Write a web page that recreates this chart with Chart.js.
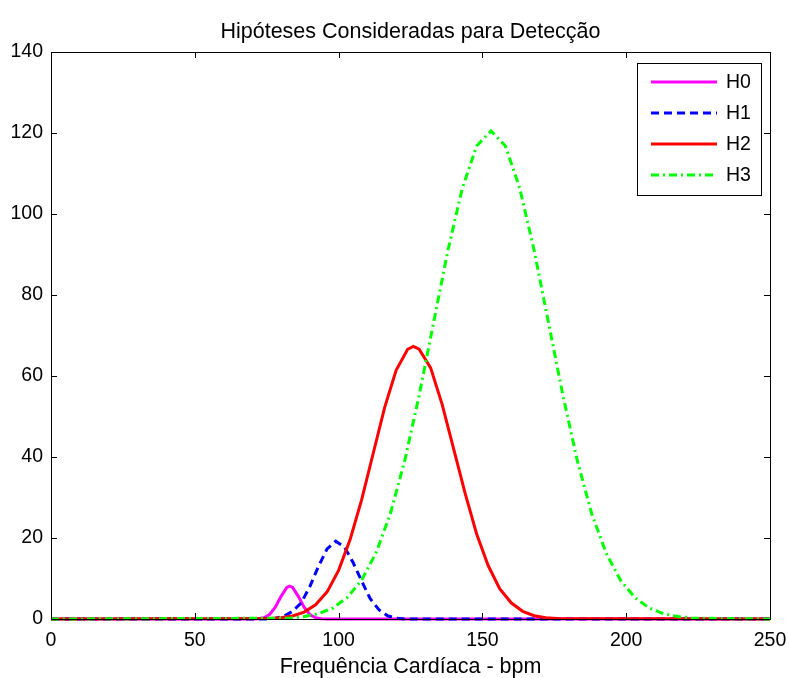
<!DOCTYPE html>
<html>
<head>
<meta charset="utf-8">
<script src="https://cdn.jsdelivr.net/npm/chart.js@4"></script>
<style>
  html, body { margin: 0; padding: 0; background: #fff; }
  #wrap { width: 789px; height: 678px; }
</style>
</head>
<body>
<div id="wrap"><canvas id="graph" width="789" height="678"></canvas></div>
<script>
// values (bpm vs. count)
const titleText = 'Hipóteses Consideradas para Detecção';
const xLabel = 'Frequência Cardíaca - bpm';
const seriesNames = ['H0', 'H1', 'H2', 'H3'];
const xTicks = [0, 50, 100, 150, 200, 250];
const yTicks = [0, 20, 40, 60, 80, 100, 120, 140];

const h0X = [0, 70, 72, 74, 76, 78, 80, 82, 83, 84, 86, 88, 90, 92, 94, 96, 250];
const h0Y = [0, 0, 0.06, 0.3, 1.1, 2.9, 5.6, 7.8, 8.1, 7.8, 5.6, 2.9, 1.1, 0.3, 0.06, 0, 0];

const h1X = [0, 75, 78, 81, 84, 87, 90, 93, 96, 99, 102, 105, 108, 111, 114, 117, 120, 123, 250];
const h1Y = [0, 0, 0.2, 0.7, 1.9, 4.0, 8.0, 13.0, 17.3, 19.2, 17.8, 14.0, 9.4, 5.0, 2.3, 0.8, 0.2, 0, 0];

const h2X = [0, 76, 80, 84, 88, 92, 96, 100, 104, 108, 112, 116, 120, 124, 126, 128, 132, 136, 140, 144, 148, 152, 156, 160, 164, 168, 172, 176, 250];
const h2Y = [0, 0.1, 0.3, 0.75, 1.7, 3.5, 6.7, 12.0, 19.6, 29.4, 40.8, 52.2, 61.4, 66.6, 67.3, 66.6, 62.0, 53.0, 42.0, 31.0, 21.0, 13.2, 7.5, 4.0, 1.9, 0.8, 0.3, 0.1, 0];

const h3X = [0, 83, 88, 93, 98, 103, 108, 113, 118, 123, 128, 133, 138, 143, 148, 153, 158, 163, 168, 173, 178, 183, 188, 193, 198, 203, 208, 213, 218, 223, 250];
const h3Y = [0, 0.2, 0.6, 1.3, 2.7, 5.3, 9.6, 16.3, 26.0, 39.1, 55.2, 73.1, 91.0, 106.3, 116.8, 120.5, 116.8, 106.3, 91.0, 73.1, 55.2, 39.1, 26.0, 16.3, 9.6, 5.3, 2.7, 1.3, 0.6, 0.2, 0];

const FONT = '"Liberation Sans", Arial, Helvetica, sans-serif';

function pts(xs, ys) {
  return xs.map((x, i) => ({ x: x, y: ys[i] }));
}

function makeSet(name, xs, ys, color, dash, order) {
  return {
    label: name,
    data: pts(xs, ys),
    borderColor: color,
    backgroundColor: color,
    borderWidth: 3,
    borderDash: dash,
    pointRadius: 0,
    tension: 0,
    showLine: true,
    fill: false,
    clip: 4,
    order: order
  };
}

// box, inward ticks, title, xlabel and legend (matlab look)
const matlabFrame = {
  id: 'matlabFrame',
  afterDatasetsDraw(chart) {
    const ctx = chart.ctx;
    const a = chart.chartArea;
    const xs = chart.scales.x, ys = chart.scales.y;
    ctx.save();
    ctx.strokeStyle = '#000';
    ctx.lineWidth = 1;
    ctx.strokeRect(a.left + 0.5, a.top + 0.5, a.right - a.left, a.bottom - a.top);
    ctx.beginPath();
    xTicks.forEach(v => {
      const px = Math.round(xs.getPixelForValue(v)) + 0.5;
      ctx.moveTo(px, a.bottom); ctx.lineTo(px, a.bottom - 6);
      ctx.moveTo(px, a.top); ctx.lineTo(px, a.top + 6);
    });
    yTicks.forEach(v => {
      const py = Math.round(ys.getPixelForValue(v)) + 0.5;
      ctx.moveTo(a.left, py); ctx.lineTo(a.left + 6, py);
      ctx.moveTo(a.right, py); ctx.lineTo(a.right - 6, py);
    });
    ctx.stroke();

    ctx.fillStyle = '#000';
    ctx.textAlign = 'center';
    ctx.textBaseline = 'alphabetic';
    ctx.font = '21.5px ' + FONT;
    const cx = (a.left + a.right) / 2;
    ctx.fillText(titleText, cx, 38);
    ctx.fillText(xLabel, cx, 673);

    // legend
    const lx = 637, ly = 63, lw = 124, lh = 132;
    ctx.fillStyle = '#fff';
    ctx.fillRect(lx, ly, lw, lh);
    ctx.strokeRect(lx + 0.5, ly + 0.5, lw, lh);
    const rows = [82, 113, 144, 175];
    chart.data.datasets.forEach((ds, i) => {
      const y = rows[i];
      ctx.beginPath();
      ctx.strokeStyle = ds.borderColor;
      ctx.lineWidth = ds.borderWidth;
      ctx.setLineDash(ds.borderDash);
      ctx.moveTo(651, y);
      ctx.lineTo(717, y);
      ctx.stroke();
      ctx.setLineDash([]);
      ctx.fillStyle = '#000';
      ctx.textAlign = 'left';
      ctx.textBaseline = 'middle';
      ctx.font = '19.5px ' + FONT;
      ctx.fillText(ds.label, 726, y + 1);
    });
    ctx.restore();
  }
};

const ctx = document.getElementById('graph').getContext('2d');
new Chart(ctx, {
  type: 'scatter',
  data: {
    datasets: [
      makeSet(seriesNames[0], h0X, h0Y, '#ff00ff', [], 4),
      makeSet(seriesNames[1], h1X, h1Y, '#0000ff', [8, 5], 3),
      makeSet(seriesNames[2], h2X, h2Y, '#ff0000', [], 2),
      makeSet(seriesNames[3], h3X, h3Y, '#00ff00', [8, 4, 2, 4], 1)
    ]
  },
  options: {
    responsive: false,
    animation: false,
    layout: { padding: { top: 52, right: 19, bottom: 0, left: 0 } },
    plugins: {
      legend: { display: false },
      title: { display: false },
      tooltip: { enabled: false }
    },
    scales: {
      x: {
        type: 'linear',
        min: 0, max: 250,
        grid: { display: false, drawTicks: false },
        border: { display: false },
        afterBuildTicks: s => { s.ticks = xTicks.map(v => ({ value: v })); },
        afterFit: s => { s.height = 59; s.paddingLeft = 0; s.paddingRight = 0; },
        ticks: { color: '#000', padding: 10, font: { family: FONT, size: 19.5 }, maxRotation: 0 }
      },
      y: {
        type: 'linear',
        min: 0, max: 140,
        grid: { display: false, drawTicks: false },
        border: { display: false },
        afterBuildTicks: s => { s.ticks = yTicks.map(v => ({ value: v })); },
        afterFit: s => { s.width = 51; s.paddingTop = 0; s.paddingBottom = 0; },
        ticks: { color: '#000', padding: 8, font: { family: FONT, size: 19.5 } }
      }
    }
  },
  plugins: [matlabFrame]
});
</script>
</body>
</html>
